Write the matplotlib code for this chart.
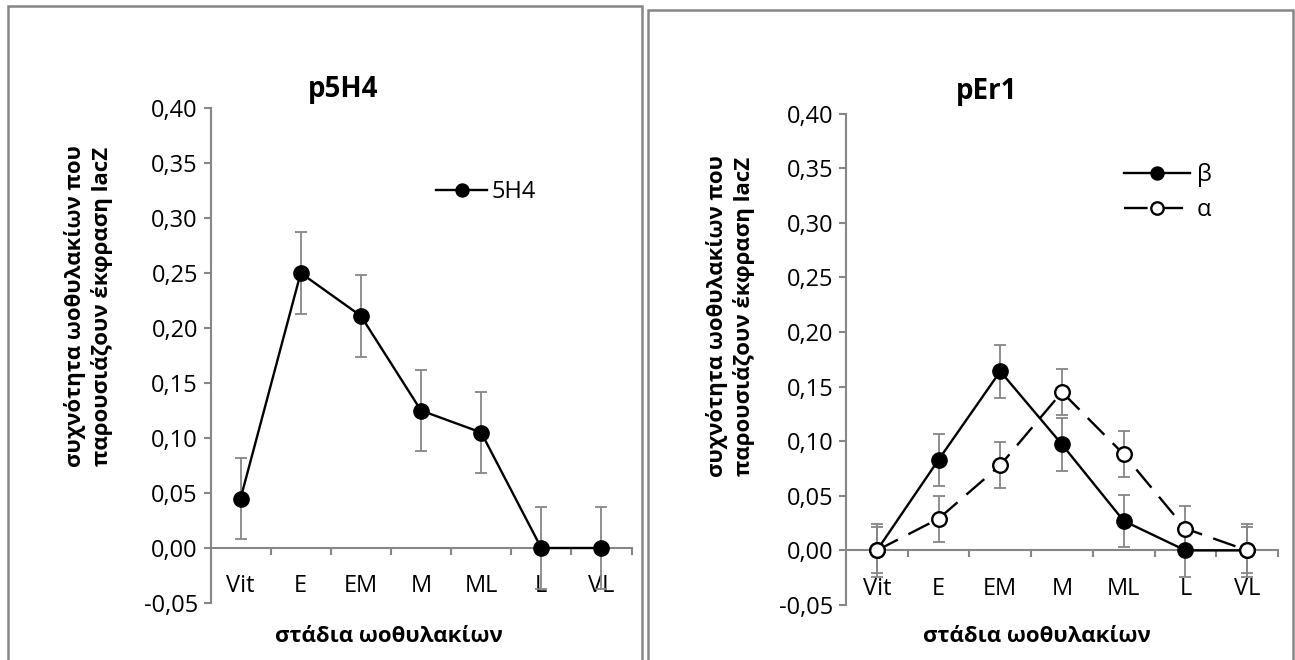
import matplotlib.pyplot as plt
from matplotlib.patches import Rectangle
from matplotlib.ticker import FuncFormatter, MultipleLocator

plt.rcParams['font.family'] = ['Open Sans', 'DejaVu Sans']

stages = ["Vit", "E", "EM", "M", "ML", "L", "VL"]

# p5H4 construct
p5h4 = [0.045, 0.250, 0.211, 0.125, 0.105, 0.0, 0.0]
p5h4_err = [0.037, 0.037, 0.037, 0.037, 0.037, 0.037, 0.037]

# pEr1 construct, lines beta and alpha
per1_beta = [0.0, 0.083, 0.164, 0.097, 0.027, 0.0, 0.0]
per1_beta_err = [0.024, 0.024, 0.024, 0.024, 0.024, 0.024, 0.024]
per1_alpha = [0.0, 0.029, 0.078, 0.145, 0.088, 0.020, 0.0]
per1_alpha_err = [0.021, 0.021, 0.021, 0.021, 0.021, 0.021, 0.021]

ylabel = "συχνότητα ωοθυλακίων που\nπαρουσιάζουν έκφραση lacZ"
xlabel = "στάδια ωοθυλακίων"

W, H = 1295, 660
GRAY = "#868686"
LW = 1.7


def px(x0, y0, x1, y1):
    # pixel box (top-left origin) -> figure fraction rect
    return [x0 / W, 1 - y1 / H, (x1 - x0) / W, (y1 - y0) / H]


def style_axes(ax):
    ax.set_xlim(-0.5, len(stages) - 0.5)
    ax.set_ylim(-0.05, 0.40)
    ax.yaxis.set_major_locator(MultipleLocator(0.05))
    ax.yaxis.set_major_formatter(FuncFormatter(lambda v, _: f"{v:.2f}".replace(".", ",")))
    ax.set_xticks(range(len(stages)))
    ax.set_xticklabels(stages)
    ax.set_xticks([i + 0.5 for i in range(len(stages))], minor=True)
    ax.spines['top'].set_visible(False)
    ax.spines['right'].set_visible(False)
    ax.spines['bottom'].set_position(('data', 0))
    for s in ('left', 'bottom'):
        ax.spines[s].set_color(GRAY)
        ax.spines[s].set_linewidth(1.5)
    ax.tick_params(axis='y', direction='out', length=5, width=1.5, color=GRAY,
                   labelsize=17, pad=4)
    ax.tick_params(axis='x', which='major', length=0, labelsize=17, pad=19)
    ax.tick_params(axis='x', which='minor', direction='out', length=5, width=1.5, color=GRAY)


fig = plt.figure(figsize=(12.95, 6.6), dpi=100)

# panel frames
for x0, y0, x1 in [(7.5, 6, 642), (648, 10, 1293)]:
    fig.add_artist(Rectangle((x0 / W, -0.02), (x1 - x0) / W, 1.02 - y0 / H,
                             transform=fig.transFigure, fill=False,
                             edgecolor=GRAY, linewidth=1.8))

x = list(range(len(stages)))

# left chart
ax1 = fig.add_axes(px(210.5, 108, 631.5, 603))
style_axes(ax1)
ax1.errorbar(x, p5h4, yerr=p5h4_err, fmt='none', ecolor=GRAY, elinewidth=1.3,
             capsize=4.5, capthick=1.3, zorder=2)
ax1.plot(x, p5h4, color='black', lw=LW, marker='o', ms=11, label="5H4", zorder=3)
ax1.legend(loc='center left', bbox_to_anchor=(0.536, 0.830), frameon=False,
           fontsize=17, handlelength=2.15, handletextpad=0.2, borderpad=0,
           borderaxespad=0, markerscale=0.85)
fig.text(343 / W, 1 - 90 / H, "p5H4", ha='center', va='center',
         fontsize=20, fontweight='bold')
ax1.set_ylabel(ylabel, fontsize=16, fontweight='bold', linespacing=1.3)
ax1.yaxis.set_label_coords(-0.232, 0.60)
fig.text(389 / W, 1 - 636 / H, xlabel, ha='center', va='center',
         fontsize=16, fontweight='bold')

# right chart
ax2 = fig.add_axes(px(846, 113.6, 1278, 605))
style_axes(ax2)
ax2.errorbar(x, per1_beta, yerr=per1_beta_err, fmt='none', ecolor=GRAY,
             elinewidth=1.3, capsize=4, capthick=1.3, zorder=2)
ax2.errorbar(x, per1_alpha, yerr=per1_alpha_err, fmt='none', ecolor=GRAY,
             elinewidth=1.3, capsize=4, capthick=1.3, zorder=2)
ax2.plot(x, per1_beta, color='black', lw=LW, marker='o', ms=11, label="β", zorder=3)
ax2.plot(x, per1_alpha, color='black', lw=LW, ls=(0, (10, 5)), marker='o', ms=10.5,
         mfc='white', mec='black', mew=1.7, label="α", zorder=3)
ax2.legend(loc='center left', bbox_to_anchor=(0.643, 0.839), frameon=False,
           fontsize=17, handlelength=2.8, handletextpad=0.3, borderpad=0,
           borderaxespad=0, labelspacing=0.45, markerscale=0.85)
fig.text(987 / W, 1 - 92 / H, "pEr1", ha='center', va='center',
         fontsize=20, fontweight='bold')
ax2.set_ylabel(ylabel, fontsize=16, fontweight='bold', linespacing=1.3)
ax2.yaxis.set_label_coords(-0.211, 0.588)
fig.text(1037 / W, 1 - 636 / H, xlabel, ha='center', va='center',
         fontsize=16, fontweight='bold')

fig.savefig("out.png", dpi=100)
